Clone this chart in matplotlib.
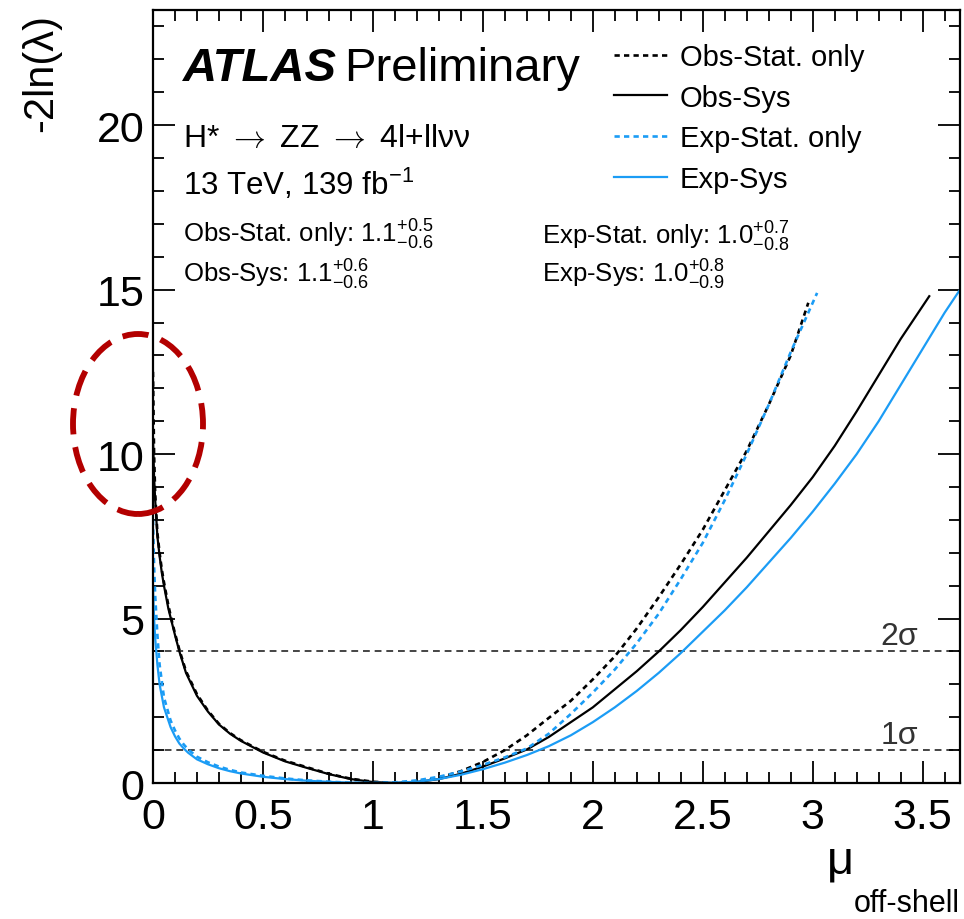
import numpy as np
import matplotlib
matplotlib.use("Agg")
import matplotlib.pyplot as plt
from matplotlib.patches import Ellipse
from matplotlib.lines import Line2D

plt.rcParams['font.family'] = ['Liberation Sans', 'DejaVu Sans']
plt.rcParams['mathtext.fontset'] = 'custom'
plt.rcParams['mathtext.rm'] = 'Liberation Sans'
plt.rcParams['mathtext.it'] = 'Liberation Sans:italic'

# Obs-Stat. only (black dashed)
obs_stat_x = [0, 0.005, 0.01, 0.02, 0.03, 0.04, 0.05, 0.07, 0.085, 0.1, 0.12, 0.15, 0.2, 0.25,
              0.3, 0.35, 0.4, 0.5, 0.6, 0.7, 0.8, 0.9, 1.0, 1.1, 1.2, 1.3, 1.4, 1.5, 1.6, 1.7,
              1.8, 1.9, 2.0, 2.1, 2.2, 2.3, 2.4, 2.5, 2.6, 2.7, 2.8, 2.9, 2.98]
obs_stat_y = [12.5, 10.0, 8.8, 7.6, 7.0, 6.5, 6.1, 5.4, 4.95, 4.55, 4.05, 3.4, 2.7, 2.2,
              1.8, 1.52, 1.3, 0.95, 0.68, 0.48, 0.28, 0.13, 0.04, 0.0, 0.04, 0.16, 0.36, 0.64, 1.0, 1.45,
              1.98, 2.5, 3.15, 3.85, 4.7, 5.65, 6.65, 7.7, 8.9, 10.1, 11.5, 13.0, 14.6]

# Obs-Sys (black solid)
obs_sys_x = [0, 0.005, 0.01, 0.02, 0.03, 0.04, 0.05, 0.07, 0.085, 0.1, 0.12, 0.15, 0.2, 0.25,
             0.3, 0.35, 0.4, 0.5, 0.6, 0.7, 0.8, 0.9, 1.0, 1.1, 1.2, 1.3, 1.4, 1.5, 1.6, 1.7,
             1.8, 1.9, 2.0, 2.1, 2.2, 2.3, 2.4, 2.5, 2.6, 2.7, 2.8, 2.9, 3.0, 3.1, 3.2, 3.3,
             3.4, 3.53]
obs_sys_y = [10.5, 9.3, 8.6, 7.5, 6.9, 6.4, 6.0, 5.3, 4.9, 4.5, 4.0, 3.35, 2.65, 2.17,
             1.78, 1.5, 1.28, 0.93, 0.66, 0.46, 0.27, 0.12, 0.03, 0.0, 0.03, 0.12, 0.28, 0.5, 0.75, 1.02,
             1.4, 1.85, 2.3, 2.85, 3.4, 4.0, 4.65, 5.35, 6.1, 6.85, 7.65, 8.45, 9.3, 10.25, 11.3, 12.4,
             13.5, 14.8]

# Exp-Stat. only (blue dashed)
exp_stat_x = [0, 0.005, 0.01, 0.02, 0.03, 0.05, 0.08, 0.1, 0.12, 0.14, 0.16, 0.2, 0.25, 0.3,
              0.35, 0.4, 0.5, 0.6, 0.7, 0.8, 0.9, 1.0, 1.1, 1.2, 1.3, 1.4, 1.5, 1.6, 1.7, 1.8,
              1.9, 2.0, 2.1, 2.2, 2.3, 2.4, 2.5, 2.6, 2.7, 2.8, 2.9, 3.02]
exp_stat_y = [8.0, 6.6, 5.7, 4.5, 3.6, 2.6, 1.9, 1.6, 1.35, 1.17, 1.02, 0.8, 0.63, 0.5,
              0.4, 0.32, 0.22, 0.14, 0.08, 0.04, 0.01, 0.0, 0.02, 0.08, 0.19, 0.35, 0.55, 0.78, 1.05, 1.5,
              2.1, 2.75, 3.45, 4.25, 5.15, 6.2, 7.3, 8.6, 10.0, 11.5, 13.1, 14.9]

# Exp-Sys (blue solid)
exp_sys_x = [0, 0.005, 0.01, 0.02, 0.03, 0.05, 0.08, 0.1, 0.12, 0.14, 0.16, 0.2, 0.25, 0.3,
             0.35, 0.4, 0.5, 0.6, 0.7, 0.8, 0.9, 1.0, 1.1, 1.2, 1.3, 1.4, 1.5, 1.6, 1.7, 1.8,
             1.9, 2.0, 2.1, 2.2, 2.3, 2.4, 2.5, 2.6, 2.7, 2.8, 2.9, 3.0, 3.1, 3.2, 3.3, 3.4,
             3.5, 3.6, 3.67]
exp_sys_y = [5.9, 5.0, 4.4, 3.6, 3.0, 2.3, 1.7, 1.42, 1.2, 1.05, 0.92, 0.72, 0.57, 0.45,
             0.36, 0.29, 0.19, 0.12, 0.07, 0.035, 0.01, 0.0, 0.01, 0.04, 0.12, 0.25, 0.42, 0.62, 0.85, 1.12,
             1.45, 1.85, 2.3, 2.8, 3.35, 3.95, 4.6, 5.25, 5.95, 6.7, 7.45, 8.25, 9.1, 10.0, 11.0, 12.1,
             13.2, 14.3, 15.0]

sigma_levels = [1, 4]
sigma_labels = ['1\u03c3', '2\u03c3']

blue = '#1b9cf5'

fig = plt.figure(figsize=(9.64, 9.2), dpi=100)
ax = fig.add_axes([0.1587, 0.1478, 0.8372, 0.8402])

for lvl, lab in zip(sigma_levels, sigma_labels):
    ax.axhline(lvl, color='#444444', lw=1.4, dashes=(3.5, 2.5), zorder=1)
    ax.text(3.395, lvl + 0.47, lab, fontsize=23, color='#333333', ha='center', va='center')

ax.plot(obs_stat_x, obs_stat_y, color='black', lw=1.9, dashes=(2.0, 1.6))
ax.plot(obs_sys_x, obs_sys_y, color='black', lw=1.6)
ax.plot(exp_stat_x, exp_stat_y, color=blue, lw=1.9, dashes=(2.0, 1.6))
ax.plot(exp_sys_x, exp_sys_y, color=blue, lw=1.6)

ax.set_xlim(0, 3.67)
ax.set_ylim(0, 23.5)
ax.set_xticks([0, 0.5, 1, 1.5, 2, 2.5, 3, 3.5])
ax.set_xticklabels(['0', '0.5', '1', '1.5', '2', '2.5', '3', '3.5'])
ax.set_xticks(np.arange(0, 3.67, 0.1), minor=True)
ax.set_yticks([0, 5, 10, 15, 20])
ax.set_yticks(np.arange(0, 24, 1), minor=True)
ax.tick_params(which='both', direction='in', top=True, right=True, width=1.3, labelsize=31)
ax.tick_params(which='major', length=16)
ax.tick_params(which='minor', length=8)
ax.tick_params(axis='x', pad=10)
ax.tick_params(axis='y', pad=6)
for s in ax.spines.values():
    s.set_linewidth(1.6)

fig.text(0.022, 0.985, '-2ln(\u03bb)', rotation=90, fontsize=30, ha='left', va='top')
fig.text(0.858, 0.050, '\u03bc', fontsize=34, ha='left', va='baseline')
fig.text(0.996, 0.009, 'off-shell', fontsize=22, ha='right', va='baseline')

# text block
fig.text(0.19, 0.912, 'ATLAS', fontsize=34, fontweight='bold', fontstyle='italic', va='baseline')
fig.text(0.357, 0.912, 'Preliminary', fontsize=34, va='baseline')
fig.text(0.19, 0.840, 'H* $\\rightarrow$ ZZ $\\rightarrow$ 4l+ll\u03bd\u03bd', fontsize=23,
         va='baseline', math_fontfamily='cm')
fig.text(0.19, 0.788, r'13 TeV, 139 fb$^{\mathregular{-1}}$', fontsize=22.5, va='baseline')
fig.text(0.19, 0.736, r'Obs-Stat. only: 1.1$^{+0.5}_{-0.6}$', fontsize=18.5, va='baseline')
fig.text(0.19, 0.693, r'Obs-Sys: 1.1$^{+0.6}_{-0.6}$', fontsize=18.5, va='baseline')
fig.text(0.562, 0.734, r'Exp-Stat. only: 1.0$^{+0.7}_{-0.8}$', fontsize=18.5, va='baseline')
fig.text(0.562, 0.693, r'Exp-Sys: 1.0$^{+0.8}_{-0.9}$', fontsize=18.5, va='baseline')

handles = [Line2D([], [], color='black', lw=1.9, dashes=(2.0, 1.6)),
           Line2D([], [], color='black', lw=1.6),
           Line2D([], [], color=blue, lw=1.9, dashes=(2.0, 1.6)),
           Line2D([], [], color=blue, lw=1.6)]
labels = ['Obs-Stat. only', 'Obs-Sys', 'Exp-Stat. only', 'Exp-Sys']
fig.legend(handles, labels, loc='upper left', bbox_to_anchor=(0.637, 0.952), frameon=False,
           fontsize=21, handlelength=1.8, handletextpad=0.45, labelspacing=0.43,
           borderaxespad=0, borderpad=0)

# red highlight ellipse
ell = Ellipse((1.38, 4.95), 1.30, 1.80, transform=fig.dpi_scale_trans, fill=False,
              edgecolor='#b30000', lw=4.2, linestyle=(0, (4.5, 2.2)), zorder=10)
fig.add_artist(ell)

fig.savefig('out.png', dpi=100)
